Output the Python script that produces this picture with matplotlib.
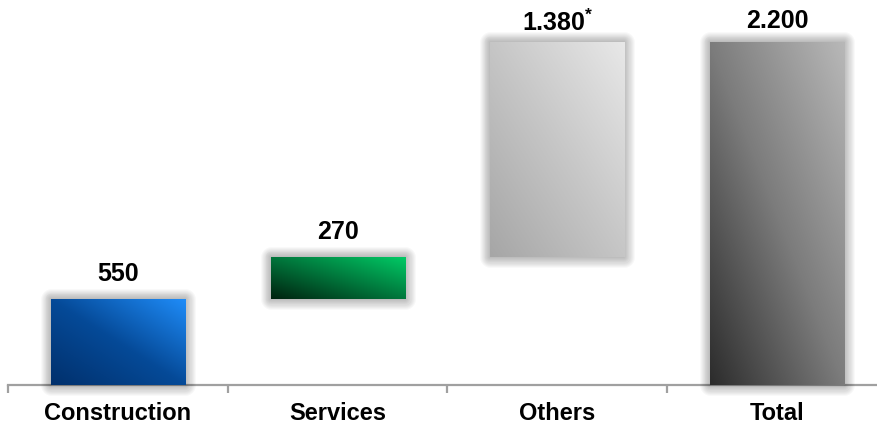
import numpy as np
import matplotlib
matplotlib.use('Agg')
import matplotlib.pyplot as plt
import matplotlib.patheffects as pe
from matplotlib.colors import LinearSegmentedColormap

plt.rcParams['font.family'] = ['Liberation Sans', 'DejaVu Sans']
plt.rcParams['mathtext.fontset'] = 'custom'
plt.rcParams['mathtext.rm'] = 'Liberation Sans:bold'
plt.rcParams['mathtext.bf'] = 'Liberation Sans:bold'
plt.rcParams['mathtext.default'] = 'bf'

# dados
categorias = ['Construction', 'Services', 'Others', 'Total']
valores = [550, 270, 1380, 2200]
eh_total = [False, False, False, True]
sufixos = ['', '', '$^{*}$', '']

# estilo: (escuro, meio, claro) de cada gradiente
cores_grad = [
  ['#01306c', '#054a98', '#1f8cf8'],
  ['#00220f', '#00773c', '#00cc66'],
  ['#a6a6a6', '#c6c6c6', '#e8e8e8'],
  ['#2c2c2c', '#7c7c7c', '#b8b8b8'],
]
offset_rotulo = [13, 13, 8, 10]  # em pontos, acima da barra

# bases da cascata
bases = []
acumulado = 0
for v, tot in zip(valores, eh_total):
  if tot:
    bases.append(0)
  else:
    bases.append(acumulado)
    acumulado += v

fig = plt.figure(figsize=(8.78, 4.26), dpi=100)
ax = fig.add_axes([8/878, 41/426, 879/878, 385/426])
x = np.arange(len(categorias))
ax.set_xlim(-0.5, len(categorias) - 0.5)
ax.set_ylim(0, 2200 * 385 / 343)

barras = ax.bar(x, valores, bottom=bases, width=0.61, color='white', zorder=2, clip_on=False)

# gradiente diagonal (escuro embaixo-esquerda, claro em cima-direita)
u, v = np.meshgrid(np.linspace(0, 1, 200), np.linspace(0, 1, 200))
grad = (u + v) / 2

brilho = [pe.Stroke(linewidth=lw, foreground='k', alpha=0.028, joinstyle='round')
          for lw in np.linspace(1.5, 15, 10)]

for i, b in enumerate(barras):
  b.set_path_effects(brilho + [pe.Normal()])
  cmap = LinearSegmentedColormap.from_list('g%d' % i, cores_grad[i])
  x0, y0 = b.get_x(), b.get_y()
  x1, y1 = x0 + b.get_width(), y0 + b.get_height()
  img = ax.imshow(grad, cmap=cmap, origin='lower', extent=(x0, x1, y0, y1),
                  aspect='auto', zorder=3, interpolation='bilinear')
  img.set_clip_path(b)

  rotulo = f'{valores[i]:,}'.replace(',', '.') + sufixos[i]
  ax.annotate(rotulo, (b.get_x() + b.get_width() / 2, y1), xytext=(0, offset_rotulo[i]),
              textcoords='offset points', ha='center', va='baseline',
              fontsize=18, fontweight='bold', color='black', zorder=4)

# eixos
for s in ['top', 'right', 'left']:
  ax.spines[s].set_visible(False)
ax.spines['bottom'].set_color('#a0a0a0')
ax.spines['bottom'].set_linewidth(1.6)
ax.spines['bottom'].set_zorder(1)
ax.set_yticks([])
ax.set_xticks(x)
ax.set_xticklabels(categorias, fontsize=17, fontweight='bold')
ax.tick_params(axis='x', which='major', length=0, pad=12)
ax.set_xticks(np.arange(len(categorias) + 1) - 0.5, minor=True)
ax.tick_params(axis='x', which='minor', length=5.5, width=1.6, color='#a0a0a0')
ax.set_ylim(0, 2200 * 385 / 343)

fig.savefig('out.png', dpi=100)
